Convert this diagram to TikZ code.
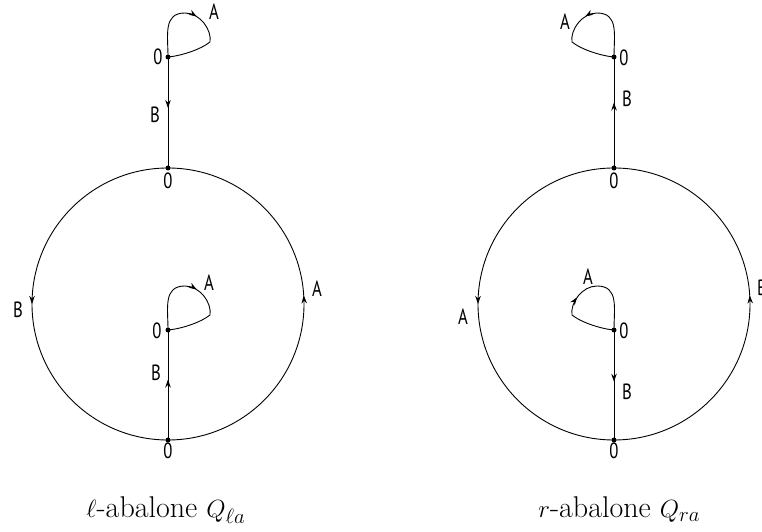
\documentclass[tikz,border=0pt]{standalone}
\usepackage{fontspec}
\newfontfamily\lblfont[FakeStretch=0.76]{PT Sans}
\usetikzlibrary{decorations.markings,arrows.meta}
\begin{document}
\begin{tikzpicture}[x=1pt,y=1pt,line width=0.9pt,
  dot/.style={circle,fill,inner sep=0pt,minimum size=5pt},
  lbl/.style={font=\lblfont\fontsize{22}{26}\selectfont,inner sep=1pt},
  captext/.style={font=\fontsize{30}{36}\selectfont,anchor=base west,inner sep=0pt},
  arr/.style={postaction={decorate},decoration={markings,mark=at position #1 with {\arrow{Stealth[length=8pt,width=5.5pt]}}}}]
\useasboundingbox (0,0) rectangle (762,532);

% ---------- left: l-abalone ----------
\node[dot] (Lt) at (168,364) {};
\node[dot] (Lb) at (168,92) {};
\node[dot] (Lu) at (168,475) {};
\node[dot] (Li) at (168,202) {};
\draw[arr=0.5] (Lt.center) arc[start angle=90,end angle=270,radius=136];
\draw[arr=0.52] (Lb.center) arc[start angle=-90,end angle=90,radius=136];
\draw[arr=0.46] (Lu.center) -- (Lt.center);
\draw[arr=0.55] (Lb.center) -- (Li.center);
\begin{scope}[shift={(168,475)}]
  \draw[arr=0.47] (Lu.center) .. controls (0,22) and (-5,44) .. (17,44) .. controls (32,44) and (44,27) .. (42,15) .. controls (32,7) and (12,1) .. (Lu.center);
\end{scope}
\begin{scope}[shift={(168,202)}]
  \draw[arr=0.47] (Li.center) .. controls (0,22) and (-5,44) .. (17,44) .. controls (32,44) and (44,27) .. (42,15) .. controls (32,7) and (12,1) .. (Li.center);
\end{scope}
\node[lbl] (lA1) at (214,520) {A};
\node[lbl] (l01) at (158,475) {0};
\node[lbl] (lB1) at (155,417) {B};
\node[lbl] (l02) at (168,351) {0};
\node[lbl] (lB2) at (18,222) {B};
\node[lbl] (lA2) at (317,243) {A};
\node[lbl] (lA3) at (209,249) {A};
\node[lbl] (l03) at (157,201) {0};
\node[lbl] (lB3) at (156,159) {B};
\node[lbl] (l04) at (168,81) {0};
\node[captext] (lcap) at (86,14) {$\ell$-abalone $Q_{\ell a}$};

% ---------- right: r-abalone ----------
\node[dot] (Rt) at (614,364) {};
\node[dot] (Rb) at (614,92) {};
\node[dot] (Ru) at (614,475) {};
\node[dot] (Ri) at (614,202) {};
\draw[arr=0.5] (Rt.center) arc[start angle=90,end angle=270,radius=136];
\draw[arr=0.52] (Rb.center) arc[start angle=-90,end angle=90,radius=136];
\draw[arr=0.59] (Rt.center) -- (Ru.center);
\draw[arr=0.47] (Ri.center) -- (Rb.center);
\begin{scope}[shift={(614,475)}]
  \draw[arr=0.47] (Ru.center) .. controls (0,22) and (5,44) .. (-17,44) .. controls (-32,44) and (-44,27) .. (-42,15) .. controls (-32,7) and (-12,1) .. (Ru.center);
\end{scope}
\begin{scope}[shift={(614,202)}]
  \draw[arr=0.45] (Ri.center) .. controls (-12,1) and (-32,7) .. (-42,15) .. controls (-44,27) and (-32,44) .. (-17,44) .. controls (5,44) and (0,22) .. (Ri.center);
\end{scope}
\node[lbl] (rA1) at (565,510) {A};
\node[lbl] (r01) at (624,474) {0};
\node[lbl] (rB1) at (627,433) {B};
\node[lbl] (r02) at (614,351) {0};
\node[lbl] (rA2) at (463,215) {A};
\node[lbl] (rB2) at (762,244) {B};
\node[lbl] (rA3) at (588,255) {A};
\node[lbl] (r03) at (624,201) {0};
\node[lbl] (rB3) at (627,140) {B};
\node[lbl] (r04) at (614,81) {0};
\node[captext] (rcap) at (538,14) {$r$-abalone $Q_{ra}$};
\end{tikzpicture}
\end{document}
